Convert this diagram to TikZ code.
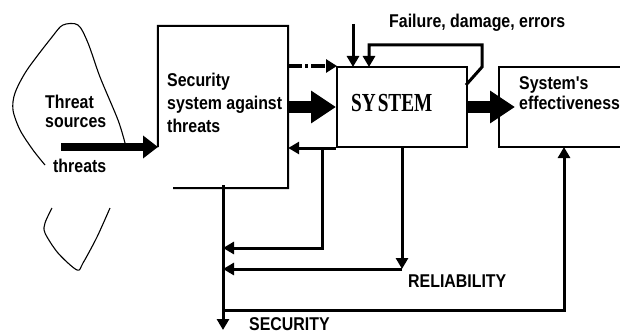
\documentclass[tikz,border=0pt]{standalone}
\usepackage{fontspec}
\setmainfont{Liberation Sans}
\newfontfamily\labf[FakeStretch=0.86]{Liberation Sans}
\newfontfamily\sysf[FakeStretch=0.74]{Liberation Serif}
\usetikzlibrary{arrows.meta}
\begin{document}
\begin{tikzpicture}[x=1pt,y=-1pt,
  lab/.style={font=\labf\bfseries\fontsize{18.5}{22}\selectfont, inner sep=0pt, anchor=base west},
  boxline/.style={line width=2pt},
  fb/.style={line width=3pt, -{Triangle[length=11pt,width=12pt]}},
  big/.style={line width=11pt, -{Triangle[length=25pt,width=31pt]}},
  blob/.style={line width=1.1pt}]
\useasboundingbox (0,0) rectangle (620,334);

% boxes
\node[inner sep=0pt, minimum width=130pt, minimum height=162pt] (sec) at (223,107) {};
\node[draw, boxline, inner sep=0pt, minimum width=130pt, minimum height=80pt] (sys) at (402,107) {};
\node[inner sep=0pt, minimum width=126pt, minimum height=80pt] (eff) at (562,107) {};

% coordinates
\coordinate (tstart) at (61,147);
\coordinate (tin) at (158,147);
\coordinate (secb) at (173,188);
\coordinate (b1) at (322,147);
\coordinate (b1c) at (322,248);
\coordinate (slt) at (223,185);
\coordinate (slb) at (223,330);
\coordinate (rel) at (402,269);
\coordinate (secc) at (223,310);
\coordinate (effc) at (564,310);
\coordinate (effin) at (564,147);
\coordinate (ftop) at (353,24);
\coordinate (fin) at (353,67);
\coordinate (l1) at (466,85);
\coordinate (l2) at (482,67);
\coordinate (l3) at (482,45);
\coordinate (l4) at (369,45);
\coordinate (lin) at (369,67);
\coordinate (dstart) at (288,66);
\coordinate (dend) at (337,66);
\coordinate (effarr) at (515,107);

% security box (open at bottom left)
\draw[boxline] (secb) -- (sec.south east) -- (sec.north east) -- (sec.north west) -- (sec.west |- tin);
% effectiveness box (runs off the right edge)
\draw[boxline] ([xshift=5pt]eff.north east) -- (eff.north west) -- (eff.south west) -- ([xshift=5pt]eff.south east);

% threat sources blob
\draw[blob] plot[smooth] coordinates {(125,143) (118,120) (100,77) (88,43) (78,25) (63,25) (52,37) (27,70) (15,93) (13,110) (20,130) (33,150) (45,165)};
\draw[blob] plot[smooth] coordinates {(52,208) (45,223) (45,233) (58,253) (77,270) (83,263) (97,237) (110,208)};

% threat arrow
\draw[line width=8pt, -{Triangle[length=15pt,width=22pt]}] (tstart) -- (tin);

% main arrows
\draw[big] (sec.east) -- (sys.west);
\draw[big] (sys.east) -- (effarr);
\draw[line width=3.5pt, dash pattern=on 14pt off 3pt on 3pt off 3pt, -{Triangle[length=11pt,width=13pt]}] (dstart) -- (dend);

% feedback
\draw[fb] (sys.south west) -- (sec.east |- sys.south west);
\draw[fb] (b1) -- (b1c) -- (slt |- b1c);
\draw[fb] (sys.south) -- (rel);
\draw[fb] (rel) -- (slt |- rel);
\draw[fb] (slt) -- (slb);
\draw[fb] (secc) -- (effc) -- (effin);

% failures
\draw[fb] (ftop) -- (fin);
\draw[fb] (l1) -- (l2) -- (l3) -- (l4) -- (lin);

% texts
\node[lab] (t1) at (45,108) {Threat};
\node[lab] (t2) at (45,127) {sources};
\node[lab] (t3) at (53,172) {threats};
\node[lab] (s1) at (167,87) {Security};
\node[lab] (s2) at (167,110) {system against};
\node[lab] (s3) at (167,132) {threats};
\node[lab] (f) at (389,28) {Failure, damage, errors};
\node[lab] (e1) at (519,89) {System's};
\node[lab] (e2) at (519,110) {effectiveness};
\node[lab] (r) at (408,287) {RELIABILITY};
\node[lab] (sc) at (249,330) {SECURITY};
\node[font=\sysf\bfseries\fontsize{26}{30}\selectfont, inner sep=0pt, anchor=base west] (st) at (351,111) {SY\kern2pt STEM};
\end{tikzpicture}
\end{document}
